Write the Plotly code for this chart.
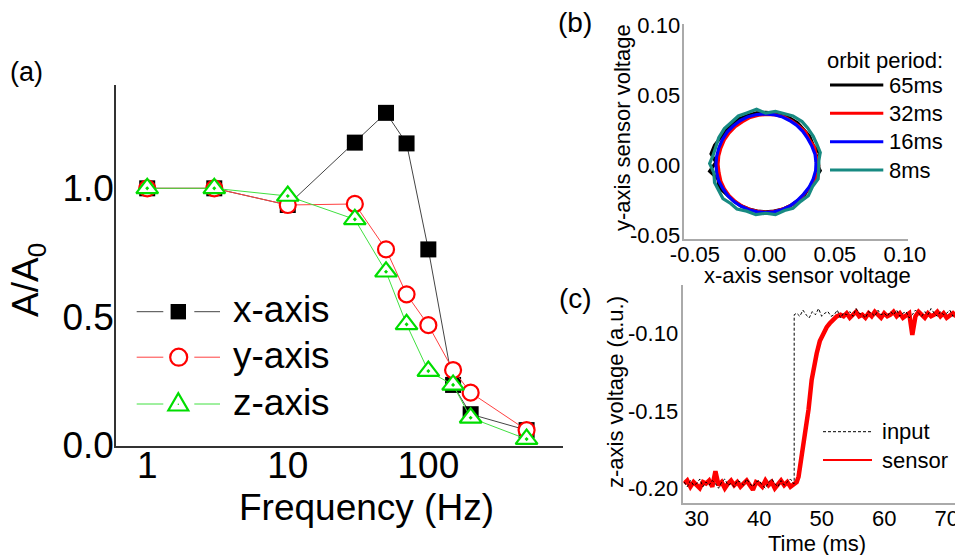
import plotly.graph_objects as go

FONT = "Liberation Sans, Arial, sans-serif"
W, H = 955, 555

# ---------------- Panel (a) data ----------------
freq_hz = [1, 3, 10, 30, 50, 70, 100, 150, 200, 500]
amp_x = [1.0, 1.0, 0.935, 1.178, 1.294, 1.175, 0.762, 0.234, 0.12, 0.058]
amp_y = [1.0, 1.0, 0.935, 0.939, 0.762, 0.587, 0.467, 0.292, 0.204, 0.058]
amp_z = [1.0, 1.0, 0.970, 0.879, 0.675, 0.470, 0.288, 0.234, 0.106, 0.023]
freq_ticks = [1, 10, 100]
amp_ticks = [0.0, 0.5, 1.0]
amp_ticktext = ["0.0", "0.5", "1.0"]

# ---------------- Panel (b) data (orbits, every 10 degrees) ----------------
orbit_65_x = [0.0365, 0.0390, 0.0345, 0.0320, 0.0280, 0.0235, 0.0185, 0.0125, 0.0070, 0.0005,
              -0.0060, -0.0120, -0.0180, -0.0230, -0.0275, -0.0315, -0.0360, -0.0385, -0.0350, -0.0395,
              -0.0335, -0.0330, -0.0270, -0.0225, -0.0175, -0.0115, -0.0055, 0.0005, 0.0065, 0.0130,
              0.0185, 0.0240, 0.0285, 0.0320, 0.0360, 0.0395, 0.0365]
orbit_65_y = [0.0020, 0.0085, 0.0140, 0.0205, 0.0250, 0.0300, 0.0330, 0.0360, 0.0370, 0.0375,
              0.0372, 0.0355, 0.0330, 0.0295, 0.0250, 0.0200, 0.0140, 0.0080, 0.0020, -0.0045,
              -0.0100, -0.0160, -0.0215, -0.0255, -0.0290, -0.0315, -0.0330, -0.0335, -0.0330, -0.0315,
              -0.0290, -0.0250, -0.0210, -0.0155, -0.0100, -0.0040, 0.0020]
orbit_32_x = [0.0385, 0.0365, 0.0355, 0.0315, 0.0290, 0.0240, 0.0190, 0.0135, 0.0075, 0.0015,
              -0.0045, -0.0105, -0.0160, -0.0210, -0.0255, -0.0290, -0.0315, -0.0330, -0.0335, -0.0328,
              -0.0315, -0.0290, -0.0255, -0.0210, -0.0160, -0.0105, -0.0045, 0.0015, 0.0075, 0.0135,
              0.0190, 0.0245, 0.0285, 0.0335, 0.0360, 0.0382, 0.0385]
orbit_32_y = [0.0000, 0.0065, 0.0125, 0.0185, 0.0235, 0.0280, 0.0315, 0.0345, 0.0358, 0.0362,
              0.0355, 0.0340, 0.0310, 0.0275, 0.0230, 0.0180, 0.0120, 0.0065, 0.0005, -0.0055,
              -0.0115, -0.0170, -0.0220, -0.0262, -0.0295, -0.0318, -0.0332, -0.0338, -0.0330, -0.0312,
              -0.0285, -0.0250, -0.0200, -0.0150, -0.0095, -0.0045, 0.0000]
orbit_16_x = [0.0365, 0.0358, 0.0335, 0.0305, 0.0270, 0.0225, 0.0175, 0.0120, 0.0060, 0.0000,
              -0.0060, -0.0120, -0.0175, -0.0225, -0.0270, -0.0305, -0.0330, -0.0345, -0.0350, -0.0345,
              -0.0330, -0.0300, -0.0265, -0.0220, -0.0170, -0.0115, -0.0055, 0.0005, 0.0065, 0.0125,
              0.0180, 0.0230, 0.0275, 0.0315, 0.0345, 0.0362, 0.0365]
orbit_16_y = [0.0015, 0.0075, 0.0135, 0.0190, 0.0240, 0.0285, 0.0318, 0.0345, 0.0360, 0.0365,
              0.0360, 0.0345, 0.0318, 0.0280, 0.0235, 0.0180, 0.0120, 0.0060, 0.0005, -0.0055,
              -0.0115, -0.0170, -0.0220, -0.0262, -0.0295, -0.0320, -0.0335, -0.0340, -0.0335, -0.0318,
              -0.0292, -0.0255, -0.0210, -0.0160, -0.0100, -0.0040, 0.0015]
orbit_8_x = [0.0385, 0.0395, 0.0370, 0.0345, 0.0305, 0.0265, 0.0200, 0.0140, 0.0075, 0.0005,
             -0.0060, -0.0130, -0.0190, -0.0245, -0.0290, -0.0330, -0.0345, -0.0370, -0.0395, -0.0365,
             -0.0360, -0.0335, -0.0300, -0.0245, -0.0200, -0.0130, -0.0065, 0.0005, 0.0075, 0.0140,
             0.0200, 0.0255, 0.0310, 0.0340, 0.0380, 0.0385, 0.0385]
orbit_8_y = [0.0030, 0.0090, 0.0150, 0.0205, 0.0265, 0.0310, 0.0350, 0.0368, 0.0382, 0.0370,
             0.0398, 0.0372, 0.0350, 0.0300, 0.0260, 0.0195, 0.0145, 0.0070, 0.0010, -0.0055,
             -0.0125, -0.0175, -0.0240, -0.0275, -0.0315, -0.0330, -0.0355, -0.0345, -0.0355, -0.0325,
             -0.0310, -0.0260, -0.0220, -0.0155, -0.0100, -0.0030, 0.0030]
orbit_labels = ["65ms", "32ms", "16ms", "8ms"]
orbit_ticks = [-0.05, 0.0, 0.05, 0.10]
orbit_ticktext = ["-0.05", "0.00", "0.05", "0.10"]

# ---------------- Panel (c) data ----------------
input_t = [28.0, 28.5, 29.0, 29.5, 30.0, 30.5, 31.0, 31.5, 32.0, 32.5,
           33.0, 33.5, 34.0, 34.5, 35.0, 35.5, 36.0, 36.5, 37.0, 37.5,
           38.0, 38.5, 39.0, 39.5, 40.0, 40.5, 41.0, 41.5, 42.0, 42.5,
           43.0, 43.5, 44.0, 44.5, 45.0, 45.5,
           45.6, 45.6,
           46.0, 46.5, 47.0, 47.5, 48.0, 48.5, 49.0, 49.5, 50.0, 50.5,
           51.0, 51.5, 52.0, 52.5, 53.0, 53.5, 54.0, 54.5, 55.0, 55.5,
           56.0, 56.5, 57.0, 57.5, 58.0, 58.5, 59.0, 59.5, 60.0, 60.5,
           61.0, 61.5, 62.0, 62.5, 63.0, 63.5, 64.0, 64.5, 65.0, 65.5,
           66.0, 66.5, 67.0, 67.5, 68.0, 68.5, 69.0, 69.5, 70.0, 70.5,
           71.0, 71.5]
input_v = [-0.196, -0.199, -0.195, -0.198, -0.197, -0.194, -0.199, -0.196, -0.198, -0.195,
           -0.197, -0.200, -0.196, -0.194, -0.198, -0.197, -0.199, -0.195, -0.196, -0.198,
           -0.194, -0.197, -0.199, -0.196, -0.195, -0.198, -0.200, -0.196, -0.194, -0.197,
           -0.199, -0.195, -0.198, -0.196, -0.194, -0.197,
           -0.197, -0.088,
           -0.087, -0.089, -0.085, -0.088, -0.090, -0.086, -0.088, -0.084, -0.089, -0.087,
           -0.086, -0.089, -0.088, -0.085, -0.090, -0.087, -0.088, -0.086, -0.089, -0.084,
           -0.087, -0.088, -0.090, -0.086, -0.087, -0.089, -0.085, -0.088, -0.087, -0.089,
           -0.086, -0.088, -0.085, -0.089, -0.087, -0.086, -0.090, -0.088, -0.085, -0.087,
           -0.089, -0.086, -0.088, -0.084, -0.087, -0.089, -0.086, -0.088, -0.087, -0.085,
           -0.089, -0.087]
sensor_t = [28.0, 28.5, 29.0, 29.5, 30.0, 30.5, 31.0, 31.5, 32.0, 32.5,
            33.0, 33.5, 34.0, 34.5, 35.0, 35.5, 36.0, 36.5, 37.0, 37.5,
            38.0, 38.5, 39.0, 39.5, 40.0, 40.5, 41.0, 41.5, 42.0, 42.5,
            43.0, 43.5, 44.0, 44.5, 45.0, 45.5, 46.0,
            46.3, 46.6, 47.0, 47.5, 47.9, 48.4, 48.8, 49.2, 49.7, 50.3,
            50.8, 51.3, 51.9, 52.4, 53.0,
            53.5, 54.0, 54.5, 55.0, 55.5, 56.0, 56.5, 57.0, 57.5, 58.0,
            58.5, 59.0, 59.5, 60.0, 60.5, 61.0, 61.5, 62.0, 62.5, 63.0,
            63.5, 64.0, 64.5, 65.0, 65.5, 66.0, 66.5, 67.0, 67.5, 68.0,
            68.5, 69.0, 69.5, 70.0, 70.5, 71.0, 71.5]
sensor_v = [-0.197, -0.195, -0.199, -0.196, -0.198, -0.200, -0.196, -0.197, -0.195, -0.199,
            -0.189, -0.198, -0.196, -0.200, -0.197, -0.195, -0.198, -0.196, -0.199, -0.197,
            -0.195, -0.198, -0.201, -0.196, -0.197, -0.199, -0.195, -0.198, -0.196, -0.200,
            -0.197, -0.195, -0.198, -0.196, -0.199, -0.197, -0.196,
            -0.1925, -0.185, -0.174, -0.160, -0.149, -0.130, -0.120, -0.113, -0.105, -0.100,
            -0.096, -0.0935, -0.091, -0.089, -0.088,
            -0.089, -0.087, -0.090, -0.088, -0.086, -0.089, -0.088, -0.090, -0.087, -0.089,
            -0.086, -0.088, -0.090, -0.087, -0.089, -0.088, -0.086, -0.089, -0.087, -0.090,
            -0.088, -0.087, -0.101, -0.089, -0.086, -0.088, -0.090, -0.087, -0.089, -0.088,
            -0.086, -0.089, -0.087, -0.090, -0.088, -0.087, -0.089]
time_ticks = [30, 40, 50, 60, 70]
zv_ticks = [-0.20, -0.15, -0.10]
zv_ticktext = ["-0.20", "-0.15", "-0.10"]

# ---------------- Styles ----------------
C_X, C_XL = "#000000", "#444444"
C_Y, C_YL = "#ff0000", "#ff4040"
C_Z, C_ZL = "#00dd00", "#40e040"
ORBIT_COLORS = ["#000000", "#ff0000", "#0000ff", "#178a82"]
GREY = "#aaaaaa"


def px(x):
    return x / W


def py(y):
    return 1 - y / H


fig = go.Figure()

# Panel (a)
fig.add_trace(go.Scatter(x=freq_hz, y=amp_x, mode="lines+markers", xaxis="x", yaxis="y",
                         line=dict(color=C_XL, width=1),
                         marker=dict(symbol="square", size=16, color=C_X, line=dict(width=0))))
fig.add_trace(go.Scatter(x=freq_hz, y=amp_y, mode="lines+markers", xaxis="x", yaxis="y",
                         line=dict(color=C_YL, width=1),
                         marker=dict(symbol="circle", size=16, color="white",
                                     line=dict(color=C_Y, width=2.2))))
fig.add_trace(go.Scatter(x=freq_hz, y=amp_z, mode="lines+markers", xaxis="x", yaxis="y",
                         line=dict(color=C_ZL, width=1),
                         marker=dict(symbol="triangle-up-dot", size=19, color="white",
                                     line=dict(color=C_Z, width=2.2))))

# Panel (b)
orbits = [(orbit_65_x, orbit_65_y), (orbit_32_x, orbit_32_y),
          (orbit_16_x, orbit_16_y), (orbit_8_x, orbit_8_y)]
for (ox, oy), col in zip(orbits, ORBIT_COLORS):
    fig.add_trace(go.Scatter(x=ox, y=oy, mode="lines", xaxis="x2", yaxis="y2",
                             line=dict(color=col, width=3.2)))

# Panel (c)
fig.add_trace(go.Scatter(x=sensor_t, y=sensor_v, mode="lines", xaxis="x3", yaxis="y3",
                         line=dict(color="#ff0000", width=4.5)))
fig.add_trace(go.Scatter(x=input_t, y=input_v, mode="lines", xaxis="x3", yaxis="y3",
                         line=dict(color="#000000", width=1, dash="3px,2px")))

axis_common = dict(showgrid=False, zeroline=False, ticks="", showline=True, automargin=False,
                   ticklabeloverflow="allow")

fig.update_layout(
    template="none",
    width=W, height=H, margin=dict(l=0, r=0, t=0, b=0, pad=0, autoexpand=False),
    paper_bgcolor="white", plot_bgcolor="white", showlegend=False,
    font=dict(family=FONT, color="black"),
    xaxis=dict(**axis_common, type="log", domain=[px(116), px(563)], range=[-0.222, 2.958],
               anchor="y", linecolor="#333333", linewidth=1.5, ticklabelstandoff=-14,
               tickvals=freq_ticks, ticktext=[str(v) for v in freq_ticks],
               tickfont=dict(size=37, family=FONT)),
    yaxis=dict(**axis_common, domain=[py(446), py(85)], range=[-0.0039, 1.4025],
               anchor="x", linecolor="#333333", linewidth=1.5, ticklabelstandoff=-7,
               tickvals=amp_ticks, ticktext=amp_ticktext, tickfont=dict(size=37, family=FONT)),
    xaxis2=dict(**axis_common, domain=[px(684.3), px(908.3)], range=[-0.0576, 0.1024],
                anchor="y2", linecolor=GREY, linewidth=1.5, ticklabelstandoff=-5,
                tickvals=orbit_ticks, ticktext=orbit_ticktext, tickfont=dict(size=22, family=FONT)),
    yaxis2=dict(**axis_common, domain=[py(239.3), py(24)], range=[-0.0531, 0.1007],
                anchor="x2", linecolor=GREY, linewidth=1.5, ticklabelstandoff=-2,
                tickvals=orbit_ticks, ticktext=orbit_ticktext, tickfont=dict(size=22, family=FONT)),
    xaxis3=dict(**axis_common, domain=[px(683.3), 1.0], range=[27.86, 71.33],
                anchor="y3", linecolor=GREY, linewidth=1.5, ticklabelstandoff=-5,
                tickvals=time_ticks, ticktext=[str(v) for v in time_ticks],
                tickfont=dict(size=22, family=FONT)),
    yaxis3=dict(**axis_common, domain=[py(503.3), py(285)], range=[-0.2097, -0.0688],
                anchor="x3", linecolor=GREY, linewidth=1.5, ticklabelstandoff=-1,
                tickvals=zv_ticks, ticktext=zv_ticktext, tickfont=dict(size=22, family=FONT)),
)

ann = []


def text(t, x, y, size, xanchor="center", angle=0):
    ann.append(dict(text=t, x=px(x), y=py(y), xref="paper", yref="paper", showarrow=False,
                    xanchor=xanchor, yanchor="middle", textangle=angle,
                    font=dict(size=size, family=FONT, color="black")))


# panel labels
text("(a)", 26, 72, 27)
text("(b)", 575, 22, 28)
text("(c)", 575, 298, 28)
# axis titles
text("Frequency (Hz)", 366.7, 507, 37)
text("A/A<sub>0</sub>", 28, 280, 37, angle=-90)
text("x-axis sensor voltage", 807, 275, 22)
text("y-axis sensor voltage", 623, 128, 22, angle=-90)
text("Time (ms)", 816.7, 543, 22)
text("z-axis voltage (a.u.)", 615, 392, 22, angle=-90)

shapes = []

# legend (a)
leg_a = [("x-axis", 311.7, C_XL), ("y-axis", 357.2, C_YL), ("z-axis", 404.0, C_ZL)]
for label, yy, lc in leg_a:
    shapes.append(dict(type="line", xref="paper", yref="paper", x0=px(136.7), x1=px(163.3),
                       y0=py(yy), y1=py(yy), line=dict(color=lc, width=1)))
    shapes.append(dict(type="line", xref="paper", yref="paper", x0=px(194.3), x1=px(220),
                       y0=py(yy), y1=py(yy), line=dict(color=lc, width=1)))
    text(label, 231, yy - 2, 37, xanchor="left")
shapes.append(dict(type="rect", xref="paper", yref="paper", x0=px(170.6), x1=px(186.0),
                   y0=py(319.4), y1=py(304.0), fillcolor=C_X, line=dict(width=0)))
shapes.append(dict(type="circle", xref="paper", yref="paper", x0=px(170.2), x1=px(187.2),
                   y0=py(365.7), y1=py(348.7), fillcolor="white", line=dict(color=C_Y, width=2.2)))
tri = "M {:.5f},{:.5f} L {:.5f},{:.5f} L {:.5f},{:.5f} Z".format(
    px(168.3), py(410.5), px(188.3), py(410.5), px(178.3), py(393.2))
shapes.append(dict(type="path", xref="paper", yref="paper", path=tri, fillcolor="white",
                   line=dict(color=C_Z, width=2.2)))
shapes.append(dict(type="circle", xref="paper", yref="paper", x0=px(177.6), x1=px(179.0),
                   y0=py(405.0), y1=py(403.6), fillcolor=C_Z, line=dict(width=0)))

# legend (b)
text("orbit period:", 945, 60, 22, xanchor="right")
for lab, col, yy in zip(orbit_labels, ORBIT_COLORS, [85, 113.3, 141.7, 170]):
    shapes.append(dict(type="line", xref="paper", yref="paper", x0=px(830), x1=px(883.3),
                       y0=py(yy), y1=py(yy), line=dict(color=col, width=3)))
    text(lab, 886.5, yy, 22, xanchor="left")

# legend (c)
shapes.append(dict(type="line", xref="paper", yref="paper", x0=px(823), x1=px(872),
                   y0=py(431.7), y1=py(431.7), line=dict(color="black", width=1, dash="3px,2px")))
shapes.append(dict(type="line", xref="paper", yref="paper", x0=px(823), x1=px(872),
                   y0=py(460), y1=py(460), line=dict(color="#ff0000", width=2)))
text("input", 880, 431.7, 22, xanchor="left")
text("sensor", 880, 460, 22, xanchor="left")

fig.update_layout(annotations=ann, shapes=shapes)
fig.write_html("out.html")
